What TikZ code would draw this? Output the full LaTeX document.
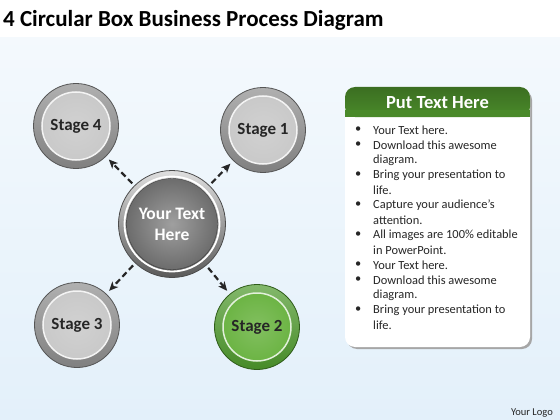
\documentclass[tikz,border=0pt]{standalone}
\usepackage{fontspec}
\setmainfont{Carlito}
\usetikzlibrary{arrows.meta,shadows}
\definecolor{ringgray}{HTML}{8E8E8E}
\definecolor{discgray}{HTML}{C9C9C9}
\definecolor{ringgreen}{HTML}{4E9A2C}
\definecolor{discgreen}{HTML}{6CB444}
\definecolor{headgreen}{HTML}{4A8A2A}
\definecolor{skyblue}{HTML}{E3F0FA}
\begin{document}
\begin{tikzpicture}[x=1pt,y=-1pt,>={Stealth[length=9pt,width=8pt,inset=2.5pt]},
    stage/.style={circle,minimum size=85pt,inner sep=0pt,draw=#1!60!black,line width=0.8pt,
      top color=#1!70!white,bottom color=#1!90!black},
    disc/.style={draw=white!80!#1,line width=1.5pt,inner color=#1!85!white,outer color=#1},
    label/.style={font=\fontsize{17}{19}\selectfont\bfseries,text=black!85},
    link/.style={->,line width=2.2pt,black!85,dash pattern=on 6pt off 3.5pt,shorten <=3pt,shorten >=4pt},
    bullet/.style={anchor=west,inner sep=0pt,font=\fontsize{12.4}{14}\selectfont,text=black!85}]
  % background and title
  \useasboundingbox (0,0) rectangle (560,420);
  \fill[white] (0,0) rectangle (560,38);
  \shade[top color=skyblue!40,bottom color=skyblue] (0,38) rectangle (560,420);
  \node[anchor=base west,inner sep=0pt,font=\fontsize{23}{27}\selectfont\bfseries] (title) at (3,27)
    {4 Circular Box Business Process Diagram};
  % the four stages
  \node[stage=ringgray] (s4) at (76,126) {};
  \node[stage=ringgray] (s1) at (263,130) {};
  \node[stage=ringgray] (s3) at (77,325) {};
  \node[stage=ringgreen] (s2) at (257,327) {};
  \foreach \s/\c/\t in {s4/discgray/Stage 4,s1/discgray/Stage 1,s3/discgray/Stage 3,s2/discgreen/Stage 2}{
    \shade[disc=\c] (\s.center) circle (34);
    \node[label] at (\s.center) {\t};
  }
  % the hub
  \node[circle,minimum size=107pt,inner sep=0pt,draw=gray!60!black,line width=0.8pt,
    top color=gray!25,bottom color=gray!70!black] (hub) at (172,224) {};
  \draw[white,line width=1.8pt] (hub.center) circle (47.5);
  \shade[inner color=gray!75,outer color=gray!85!black,draw=gray!50!black] (hub.center) circle (45.5);
  \node[align=center,text=white,font=\fontsize{17.5}{21}\selectfont\bfseries] (hubtext) at (hub.center)
    {Your Text\\Here};
  % dashed arrows from the hub
  \foreach \s in {s1,s2,s3,s4}
    \draw[link] (hub) -- (\s);
  % text box
  \fill[gray!70,rounded corners=10pt] (347,90) rectangle (532,349);
  \fill[white,rounded corners=10pt] (345,87) rectangle (530,347);
  \shade[top color=headgreen!80!black,bottom color=headgreen,rounded corners=10pt]
    (345,117) -- (345,87) -- (530,87) -- (530,117) -- cycle;
  \fill[headgreen] (345,110) rectangle (530,117);
  \node[text=white,font=\fontsize{18.5}{21}\selectfont\bfseries] (head) at (437.5,102.5) {Put Text Here};
  \foreach \y/\t/\b in {130/Your Text here./1,145/Download this awesome/1,160/diagram./0,
      175/Bring your presentation to/1,190/life./0,205/Capture your audience’s/1,220/attention./0,
      235/All images are 100\% editable/1,250/in PowerPoint./0,265/Your Text here./1,
      280/Download this awesome/1,295/diagram./0,310/Bring your presentation to/1,325/life./0}{
    \node[bullet] at (373,\y) {\t};
    \ifnum\b=1 \node[bullet] at (355,\y) {\textbullet}; \fi
  }
  \node[anchor=base east,inner sep=0pt,font=\fontsize{10.5}{12}\selectfont,text=black!85] (logo) at (553,415)
    {Your Logo};
\end{tikzpicture}
\end{document}
